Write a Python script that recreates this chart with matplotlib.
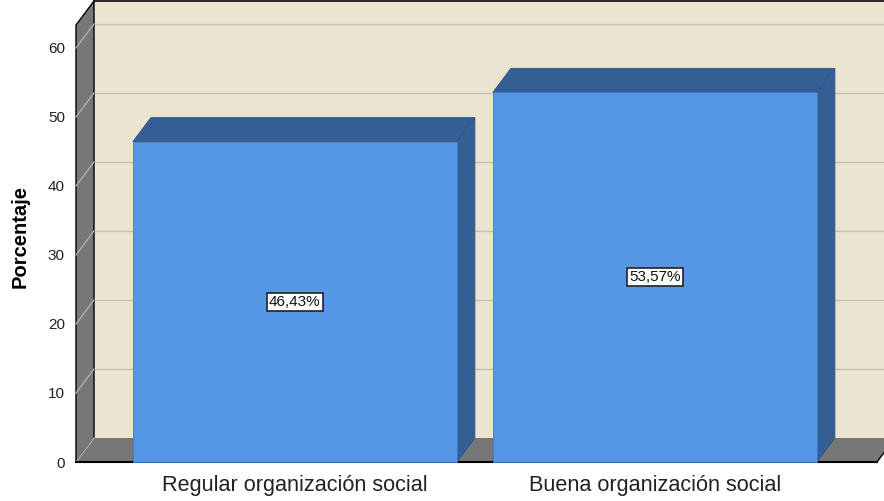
import matplotlib
matplotlib.use("Agg")
import matplotlib.pyplot as plt
from matplotlib.patches import Polygon, Rectangle

categories = ["Regular organización social", "Buena organización social"]
values = [46.43, 53.57]
labels = ["46,43%", "53,57%"]
yticks = [0, 10, 20, 30, 40, 50, 60]

plt.rcParams['font.family'] = ['Liberation Sans', 'DejaVu Sans']

W, H = 884, 501
fig = plt.figure(figsize=(W / 100, H / 100), dpi=100)
fig.patch.set_facecolor("white")

# front plane in pixels
left_px, right_px, bot_px, top_px = 76, 877, 462, 25
ax = fig.add_axes([left_px / W, (H - bot_px) / H, (right_px - left_px) / W, (bot_px - top_px) / H])
xmin, xmax = -0.608, 1.617
ymax = 63.33
ax.set_xlim(xmin, xmax)
ax.set_ylim(0, ymax)
ax.patch.set_visible(False)
for s in ax.spines.values():
    s.set_visible(False)

# depth offset in data units
px_x = (xmax - xmin) / (right_px - left_px)
px_y = ymax / (bot_px - top_px)
dx = 18 * px_x
dy = 24 * px_y

wall_c = "#777777"
back_c = "#EAE4D0"
front_c = "#5596E5"
dark_c = "#355F94"

# back wall
ax.add_patch(Rectangle((xmin + dx, dy), (xmax - xmin) + 2 * dx, ymax, facecolor=back_c,
                       edgecolor="none", clip_on=False, zorder=0))
ax.plot([xmin + dx, xmax + 3 * dx], [ymax + dy, ymax + dy], color="black", lw=1.2, clip_on=False, zorder=1)
# left wall
ax.add_patch(Polygon([(xmin, 0), (xmin, ymax), (xmin + dx, ymax + dy), (xmin + dx, dy)],
                     closed=True, facecolor=wall_c, edgecolor="black", lw=1.0, clip_on=False, zorder=1))
# floor
ax.add_patch(Polygon([(xmin, 0), (xmax, 0), (xmax + dx, dy), (xmin + dx, dy)],
                     closed=True, facecolor=wall_c, edgecolor="none", clip_on=False, zorder=1))
ax.plot([xmin, xmax], [0, 0], color="black", lw=1.5, clip_on=False, zorder=2)
ax.plot([xmax, xmax + dx], [0, dy], color="black", lw=1.0, clip_on=False, zorder=2)

# gridlines
for v in yticks:
    ax.plot([xmin, xmin + dx], [v, v + dy], color="#B4B4B4", lw=0.9, clip_on=False, zorder=1.5)
    if v > 0:
        ax.plot([xmin + dx, xmax + 3 * dx], [v + dy, v + dy], color="#C6C2B6", lw=1.0,
                clip_on=False, zorder=0.5)

# bars
width = 0.9
for i, (v, lab) in enumerate(zip(values, labels)):
    x0 = i - width / 2
    x1 = i + width / 2
    # top
    ax.add_patch(Polygon([(x0, v), (x1, v), (x1 + dx, v + dy), (x0 + dx, v + dy)], closed=True,
                         facecolor=dark_c, edgecolor="#2E5482", lw=0.6, clip_on=False, zorder=3))
    # side
    ax.add_patch(Polygon([(x1, 0), (x1, v), (x1 + dx, v + dy), (x1 + dx, dy)], closed=True,
                         facecolor=dark_c, edgecolor="#2E5482", lw=0.6, clip_on=False, zorder=3))
    # front
    ax.bar(i, v, width=width, color=front_c, edgecolor="#3F77BC", lw=0.6, zorder=4, clip_on=False)
    ax.text(i, v / 2, lab, ha="center", va="center", fontsize=11, zorder=5, color="#111111",
            bbox=dict(boxstyle="square,pad=0.15", facecolor="white", edgecolor="#222222", lw=1.2))

ax.set_yticks(yticks)
ax.set_yticklabels([str(t) for t in yticks], fontsize=11, color="#222222")
ax.tick_params(axis="y", length=0, pad=8)
ax.set_xticks(range(len(categories)))
ax.set_xticklabels(categories, fontsize=15.6, color="#222222")
ax.tick_params(axis="x", length=0, pad=9)

fig.text(20 / W, 1 - 236 / H, "Porcentaje", rotation=90, ha="center", va="center",
         fontsize=14.5, fontweight="bold")

fig.savefig("out.png", dpi=100)
